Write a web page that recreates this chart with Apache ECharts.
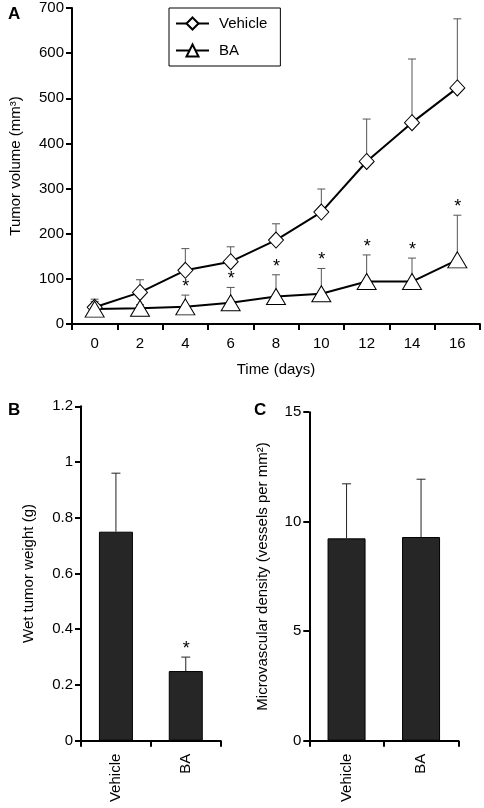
<!DOCTYPE html>
<html>
<head>
<meta charset="utf-8">
<script src="https://cdn.jsdelivr.net/npm/echarts@6/dist/echarts.min.js"></script>
<style>
html,body{margin:0;padding:0;background:#fff;}
#chart{width:484px;height:808px;}
</style>
</head>
<body>
<div id="chart"></div>
<script>
// Panel A: tumor volume over time
const days = ['0', '2', '4', '6', '8', '10', '12', '14', '16'];
const vehicleMean = [37, 70, 119, 138, 186, 248, 360, 446, 523];
const vehicleSD = [18, 28, 48, 33, 36, 51, 94, 141, 153];
const baMean = [33, 35, 38, 47, 61, 67, 94, 94, 142];
const baSD = [17, 8, 26, 34, 48, 56, 59, 52, 99];
const baStar = [0, 0, 1, 1, 1, 1, 1, 1, 1];
const volumeTicks = [0, 100, 200, 300, 400, 500, 600, 700];

// Panel B: wet tumor weight
const groups = ['Vehicle', 'BA'];
const weightMean = [0.75, 0.25];
const weightSD = [0.21, 0.05];
const weightStar = [0, 1];

// Panel C: microvascular density
const mvdMean = [9.24, 9.30];
const mvdSD = [2.49, 2.64];

const FONT = 'Liberation Sans';
const chart = echarts.init(document.getElementById('chart'), null, {renderer: 'canvas'});

function errData(mean, sd, star) {
  return mean.map((m, i) => [i, m, m + sd[i], star ? star[i] : 0]);
}

function errRender(capHalf, color) {
  return function (params, api) {
    const i = api.value(0);
    const lo = api.coord([i, api.value(1)]);
    const hi = api.coord([i, api.value(2)]);
    const children = [
      {type: 'line', shape: {x1: lo[0], y1: lo[1], x2: hi[0], y2: hi[1]}, style: {stroke: color, lineWidth: 1}},
      {type: 'line', shape: {x1: hi[0] - capHalf, y1: hi[1], x2: hi[0] + capHalf, y2: hi[1]}, style: {stroke: color, lineWidth: 1}}
    ];
    if (api.value(3)) {
      children.push({type: 'text', x: hi[0] + 0.5, y: hi[1] + 1,
        style: {text: '*', fontSize: 18, fontFamily: FONT, fill: '#000', align: 'center', verticalAlign: 'bottom'}});
    }
    return {type: 'group', children: children};
  };
}

const axisLineStyle = {lineStyle: {color: '#000', width: 2}};
const tickStyle = {show: true, inside: false, length: 6, lineStyle: {color: '#000', width: 2}};
const labelStyle = {color: '#000', fontSize: 15, fontFamily: FONT};

const option = {
  animation: false,
  backgroundColor: '#fff',
  textStyle: {fontFamily: FONT},
  title: [
    {text: 'A', left: 3, top: 1, textStyle: {fontSize: 17, fontWeight: 'bold', fontFamily: FONT, color: '#000'}},
    {text: 'B', left: 3, top: 397, textStyle: {fontSize: 17, fontWeight: 'bold', fontFamily: FONT, color: '#000'}},
    {text: 'C', left: 249, top: 397, textStyle: {fontSize: 17, fontWeight: 'bold', fontFamily: FONT, color: '#000'}}
  ],
  legend: {
    orient: 'vertical',
    left: 169, top: 8,
    padding: [8, 13, 8, 6],
    itemGap: 12,
    itemWidth: 33, itemHeight: 15,
    borderColor: '#000', borderWidth: 1,
    textStyle: {fontSize: 15, fontFamily: FONT, color: '#000', padding: [0, 0, 0, 5]},
    data: ['Vehicle', 'BA']
  },
  grid: [
    {left: 71, top: 8, width: 409, height: 316},
    {left: 81, top: 406.3, width: 139.7, height: 334.4},
    {left: 309.3, top: 412.2, width: 149, height: 328.5}
  ],
  xAxis: [
    {gridIndex: 0, type: 'category', data: days, boundaryGap: true,
      axisLine: axisLineStyle, axisTick: tickStyle,
      axisLabel: Object.assign({margin: 12}, labelStyle),
      name: 'Time (days)', nameLocation: 'middle', nameGap: 38,
      nameTextStyle: {fontSize: 15, fontFamily: FONT, color: '#000'}},
    {gridIndex: 1, type: 'category', data: groups, boundaryGap: true,
      axisLine: axisLineStyle, axisTick: tickStyle,
      axisLabel: Object.assign({margin: 13, rotate: 90}, labelStyle)},
    {gridIndex: 2, type: 'category', data: groups, boundaryGap: true,
      axisLine: axisLineStyle, axisTick: tickStyle,
      axisLabel: Object.assign({margin: 13, rotate: 90}, labelStyle)}
  ],
  yAxis: [
    {gridIndex: 0, type: 'value', min: volumeTicks[0], max: volumeTicks[volumeTicks.length - 1], interval: 100,
      axisLine: Object.assign({show: true}, axisLineStyle), axisTick: tickStyle, splitLine: {show: false},
      axisLabel: Object.assign({margin: 8}, labelStyle),
      name: 'Tumor volume (mm³)', nameLocation: 'middle', nameGap: 49,
      nameTextStyle: {fontSize: 15, fontFamily: FONT, color: '#000'}},
    {gridIndex: 1, type: 'value', min: 0, max: 1.2, interval: 0.2,
      axisLine: Object.assign({show: true}, axisLineStyle), axisTick: tickStyle, splitLine: {show: false},
      axisLabel: Object.assign({margin: 8, formatter: v => String(+v.toFixed(1))}, labelStyle),
      name: 'Wet tumor weight (g)', nameLocation: 'middle', nameGap: 45,
      nameTextStyle: {fontSize: 15, fontFamily: FONT, color: '#000'}},
    {gridIndex: 2, type: 'value', min: 0, max: 15, interval: 5,
      axisLine: Object.assign({show: true}, axisLineStyle), axisTick: tickStyle, splitLine: {show: false},
      axisLabel: Object.assign({margin: 8}, labelStyle),
      name: 'Microvascular density (vessels per mm²)', nameLocation: 'middle', nameGap: 39,
      nameTextStyle: {fontSize: 15, fontFamily: FONT, color: '#000'}}
  ],
  series: [
    {type: 'custom', xAxisIndex: 0, yAxisIndex: 0, z: 1, silent: true,
      renderItem: errRender(4, '#555'), encode: {x: 0, y: [1, 2]},
      data: errData(vehicleMean, vehicleSD, null)},
    {type: 'custom', xAxisIndex: 0, yAxisIndex: 0, z: 1, silent: true,
      renderItem: errRender(4, '#555'), encode: {x: 0, y: [1, 2]},
      data: errData(baMean, baSD, baStar)},
    {name: 'Vehicle', type: 'line', xAxisIndex: 0, yAxisIndex: 0, z: 3,
      data: vehicleMean, symbol: 'diamond', symbolSize: [15, 16], showAllSymbol: true,
      lineStyle: {color: '#000', width: 2},
      itemStyle: {color: '#fff', borderColor: '#000', borderWidth: 1}},
    {name: 'BA', type: 'line', xAxisIndex: 0, yAxisIndex: 0, z: 3,
      data: baMean, symbol: 'triangle', symbolSize: [19, 16], showAllSymbol: true,
      lineStyle: {color: '#000', width: 2},
      itemStyle: {color: '#fff', borderColor: '#000', borderWidth: 1}},
    {type: 'bar', xAxisIndex: 1, yAxisIndex: 1, data: weightMean, barWidth: 34,
      itemStyle: {color: '#262626', borderColor: '#000', borderWidth: 1}},
    {type: 'custom', xAxisIndex: 1, yAxisIndex: 1, z: 3, silent: true,
      renderItem: errRender(4.5, '#222'), encode: {x: 0, y: [1, 2]},
      data: errData(weightMean, weightSD, weightStar)},
    {type: 'bar', xAxisIndex: 2, yAxisIndex: 2, data: mvdMean, barWidth: 38,
      itemStyle: {color: '#262626', borderColor: '#000', borderWidth: 1}},
    {type: 'custom', xAxisIndex: 2, yAxisIndex: 2, z: 3, silent: true,
      renderItem: errRender(4.5, '#222'), encode: {x: 0, y: [1, 2]},
      data: errData(mvdMean, mvdSD, null)}
  ]
};
chart.setOption(option);
</script>
</body>
</html>
